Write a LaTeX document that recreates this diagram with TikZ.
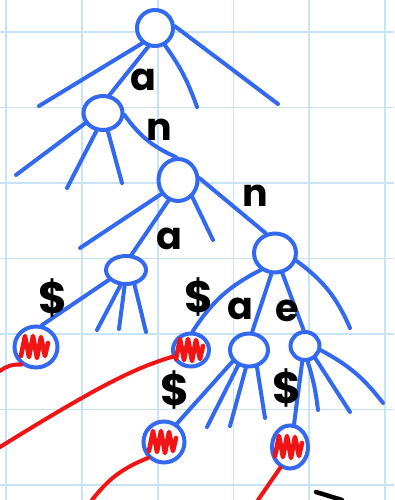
\documentclass[tikz,border=0pt]{standalone}
\usepackage{fontspec}
\setmainfont{Poppins}
\usetikzlibrary{shapes.geometric}
\definecolor{gridblue}{RGB}{200,227,245}
\definecolor{penblue}{RGB}{50,105,240}
\definecolor{penred}{RGB}{240,20,20}
\newcommand{\redscrib}[1]{\draw[penred, line width=4.6pt, line join=round, line cap=round]
  ([shift={(-15,9)}]#1.center) -- ++(4,-20) -- ++(4,21) -- ++(4,-21) -- ++(4,22) -- ++(4,-21) -- ++(4,19) -- ++(3,-13);}
\begin{document}
\begin{tikzpicture}[x=1pt,y=-1pt,
  nd/.style={ellipse, draw=penblue, line width=4pt, inner sep=0pt, fill=white},
  en/.style={draw=penblue, line width=4pt, line cap=round},
  rd/.style={draw=penred, line width=4pt, line cap=round},
  lbl/.style={font=\fontsize{38}{40}\selectfont\bfseries, text=black, inner sep=0pt},
  dol/.style={font=\fontsize{44}{46}\selectfont\bfseries, text=black, inner sep=0pt}]
\useasboundingbox (0,0) rectangle (394,500);
\fill[white] (0,0) rectangle (394,500);
\foreach \i in {0,...,5} {\draw[gridblue, line width=1.8pt] ({6+75.8*\i},0) -- ({6+75.8*\i},500);}
\foreach \j in {0,...,6} {\draw[gridblue, line width=1.8pt] (0,{32+75.5*\j}) -- (394,{32+75.5*\j});}

% nodes
\node[nd, minimum width=36pt, minimum height=36pt] (root) at (155,28) {};
\node[nd, minimum width=39pt, minimum height=34pt] (nA) at (103,113) {};
\node[nd, minimum width=39pt, minimum height=42pt] (nAN) at (178,180) {};
\node[nd, minimum width=40pt, minimum height=28pt] (nANA) at (126,270) {};
\node[nd, minimum width=42pt, minimum height=39pt] (nANN) at (275,253) {};
\node[nd, minimum width=43pt, minimum height=41pt] (lANA) at (36,347) {};
\node[nd, minimum width=36pt, minimum height=33pt] (lANN) at (191,350) {};
\node[nd, minimum width=38pt, minimum height=33pt] (nANNA) at (249,350) {};
\node[nd, minimum width=29pt, minimum height=28pt] (nANNE) at (305,346) {};
\node[nd, minimum width=41pt, minimum height=41pt] (lANNA) at (164,442) {};
\node[nd, minimum width=36pt, minimum height=43pt] (lANNE) at (290,447) {};

% free ends
\coordinate (r1) at (39,106);
\coordinate (r2) at (197,107);
\coordinate (r3) at (278,104);
\coordinate (a1) at (16,175);
\coordinate (a2) at (67,188);
\coordinate (a3) at (122,183);
\coordinate (b1) at (80,248);
\coordinate (b2) at (213,240);
\coordinate (c1) at (97,330);
\coordinate (c2) at (119,329);
\coordinate (c3) at (146,332);
\coordinate (d1) at (350,328);
\coordinate (e1) at (207,427);
\coordinate (e2) at (230,426);
\coordinate (e3) at (265,418);
\coordinate (f1) at (318,410);
\coordinate (f2) at (350,412);
\coordinate (f3) at (383,403);
\coordinate (g1) at (0,371);
\coordinate (h1) at (0,447);
\coordinate (i1) at (92,500);
\coordinate (j1) at (258,500);
\coordinate (k1) at (316,492);
\coordinate (k2) at (342,500);

% blue edges
\draw[en] (root.-130) -- (r1);
\draw[en] (root.-110) -- (nA.70);
\draw[en] (root.-60) to[bend left=8] (r2);
\draw[en] (root.5) -- (r3);

\draw[en] (nA.-150) -- (a1);
\draw[en] (nA.-110) -- (a2);
\draw[en] (nA.-75) -- (a3);
\draw[en] (nA.-5) to[bend right=15] (nAN.95);

\draw[en] (nAN.-140) -- (b1);
\draw[en] (nAN.-115) -- (nANA.70);
\draw[en] (nAN.-50) -- (b2);
\draw[en] (nAN.5) -- (nANN.115);

\draw[en] (nANA.-150) -- (lANA.75);
\draw[en] (nANA.-110) -- (c1);
\draw[en] (nANA.-95) -- (c2);
\draw[en] (nANA.-60) -- (c3);

\draw[en] (nANN.-130) to[bend right=15] (lANN.85);
\draw[en] (nANN.-100) -- (nANNA.80);
\draw[en] (nANN.-70) -- (nANNE.95);
\draw[en] (nANN.-20) to[bend left=15] (d1);

\draw[en] (nANNA.-145) -- (lANNA.55);
\draw[en] (nANNA.-125) -- (e1);
\draw[en] (nANNA.-100) -- (e2);
\draw[en] (nANNA.-65) -- (e3);

\draw[en] (nANNE.-100) -- (lANNE.80);
\draw[en] (nANNE.-80) to[bend left=5] (f1);
\draw[en] (nANNE.-50) -- (f2);
\draw[en] (nANNE.-15) to[bend left=12] (f3);

% red scribbles
\redscrib{lANA}
\redscrib{lANN}
\redscrib{lANNA}
\redscrib{lANNE}

% red connectors
\draw[rd] (lANA.-130) to[bend right=20] (g1);
\draw[rd] (lANN.200) .. controls (135,368) and (100,385) .. (h1);
\draw[rd] (lANNA.-135) to[bend right=15] (i1);
\draw[rd] (lANNE.-115) -- (j1);

\draw[black, line width=4.5pt, line cap=round] (k1) -- (k2);

% labels
\node[lbl] (la) at (143,80) {a};
\node[lbl] (ln1) at (159,130) {n};
\node[lbl] (ln2) at (255,196) {n};
\node[lbl] (la2) at (169,239) {a};
\node[dol] (ld1) at (53,298) {\$};
\node[dol] (ld2) at (199,297) {\$};
\node[lbl] (la3) at (240,309) {a};
\node[lbl] (le) at (287,311) {e};
\node[dol] (ld3) at (175,390) {\$};
\node[dol] (ld4) at (287,388) {\$};
\end{tikzpicture}
\end{document}
